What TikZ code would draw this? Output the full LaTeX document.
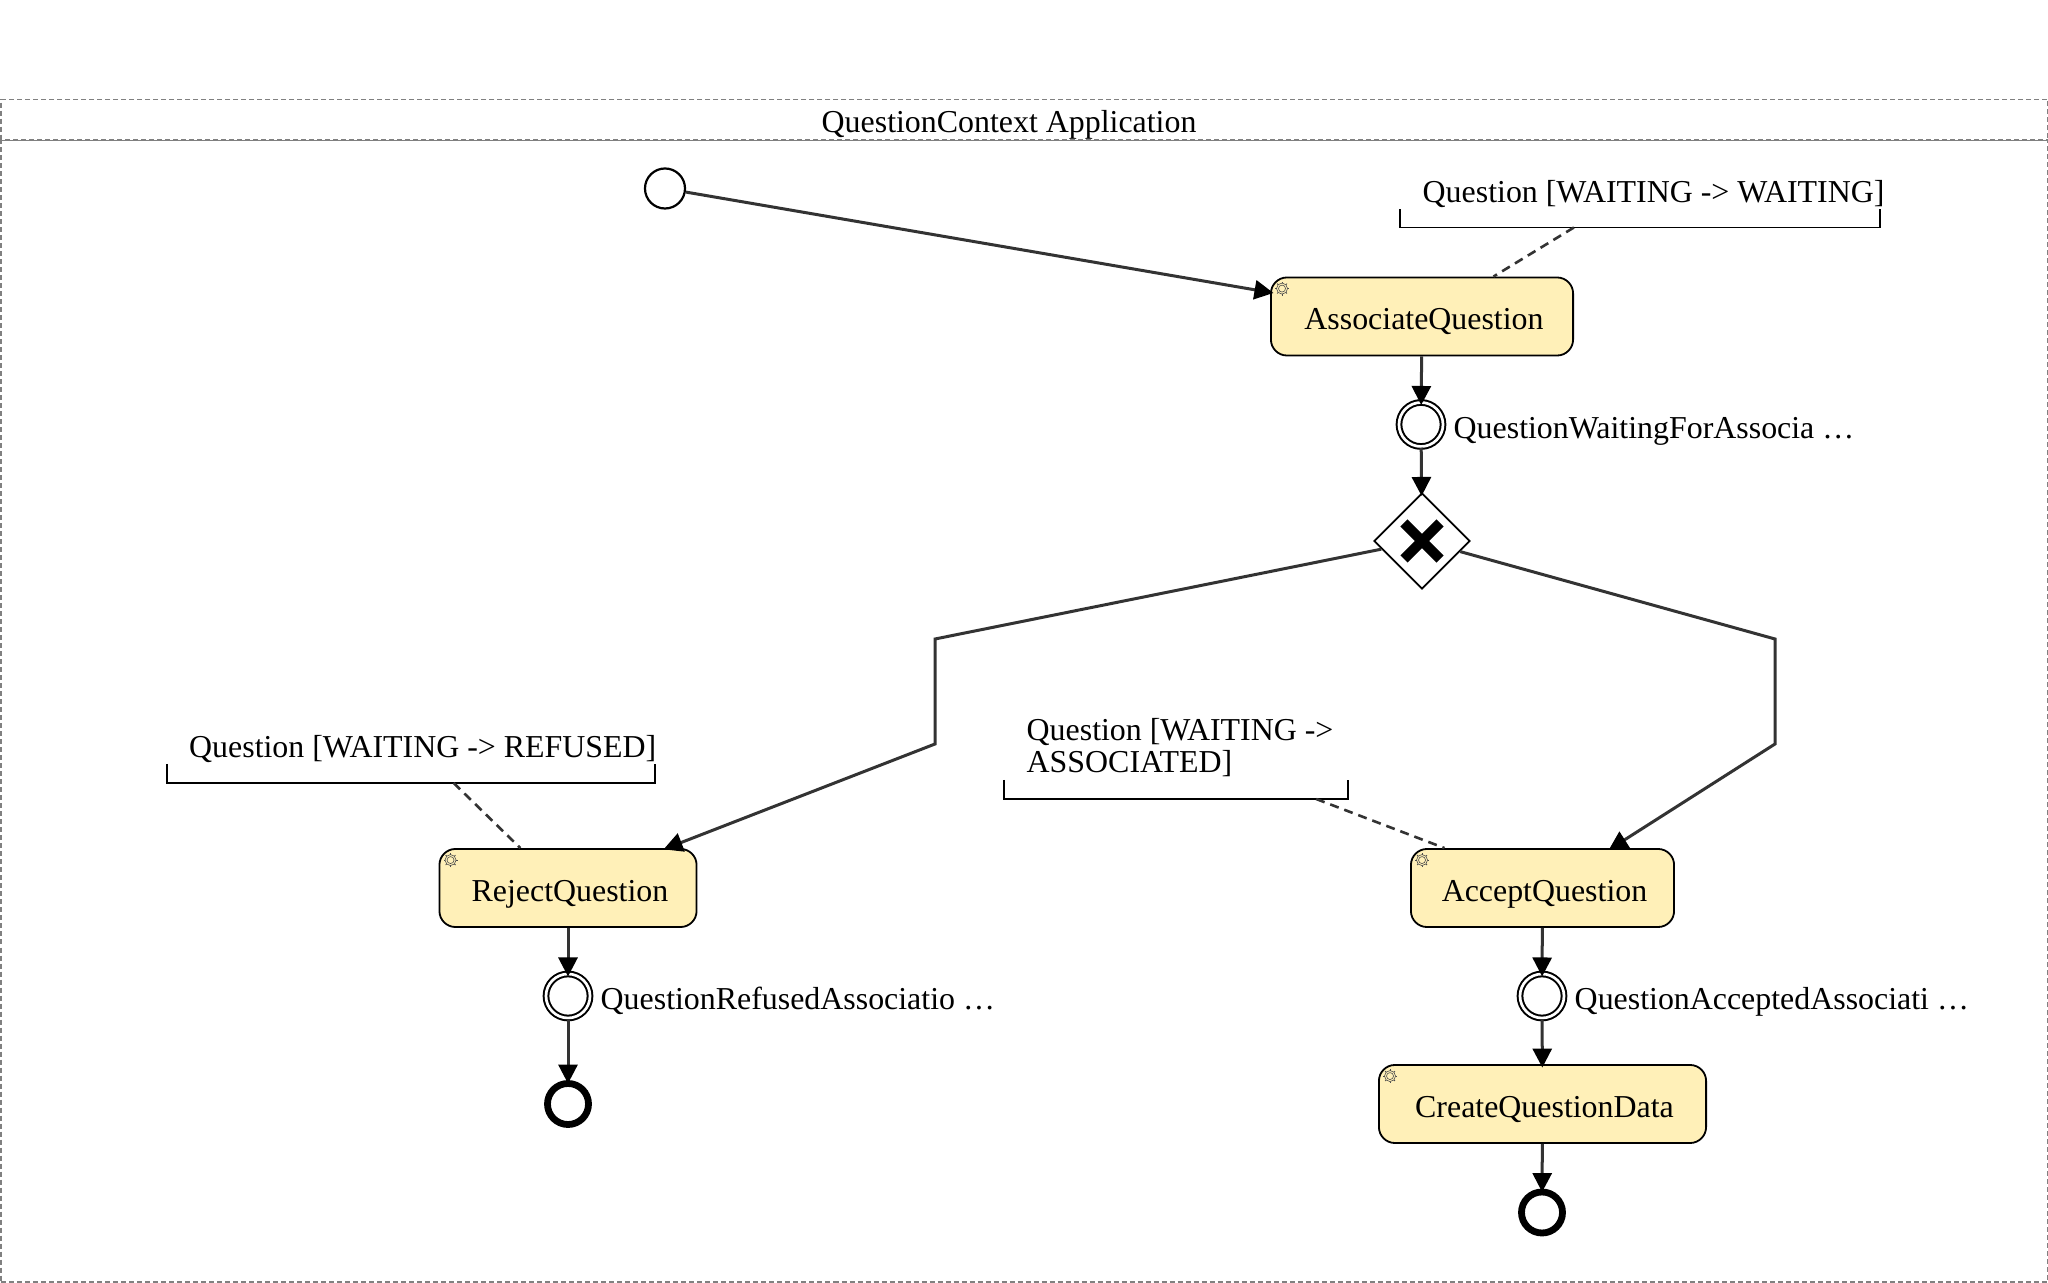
\documentclass[tikz,border=0pt]{standalone}
\usepackage{fontspec}
\setmainfont{Liberation Serif}
\usetikzlibrary{arrows.meta,calc,shapes.geometric,shapes.misc}
\definecolor{taskfill}{HTML}{FFF0B8}
\definecolor{flowgray}{HTML}{333333}
\definecolor{poolgray}{HTML}{808080}
\tikzset{
  lbl/.style={anchor=base west, inner sep=0pt, font=\fontsize{9.07}{8.9}\selectfont, align=left},
  task/.style={draw, rounded corners=.16cm, fill=taskfill, line width=.018cm, inner sep=0pt, minimum height=.78cm, text height=.35cm, text depth=.08cm, execute at begin node={\hspace{.04cm}}, font=\fontsize{9.07}{8.9}\selectfont},
  startev/.style={draw, circle, line width=.022cm, inner sep=0pt, minimum size=.4cm},
  midev/.style={draw, circle, double, double distance=.027cm, line width=.02cm, inner sep=0pt, minimum size=.44cm},
  endev/.style={draw, circle, line width=.068cm, inner sep=0pt, minimum size=.41cm},
  gate/.style={draw, diamond, aspect=1, line width=.018cm, inner sep=0pt, minimum size=.96cm},
  flow/.style={draw=flowgray, line width=.03cm, shorten >=-.035cm, -{Triangle[length=.19cm,width=.19cm,color=black]}},
  assoc/.style={draw=flowgray, line width=.026cm, dash pattern=on .09cm off .06cm},
  brace/.style={draw, line width=.018cm},
  notebox/.style={inner sep=0pt, outer sep=0pt},
  poolbox/.style={draw=poolgray, line width=.018cm, dash pattern=on .05cm off .03cm, inner sep=0pt, outer sep=0pt},
  gear/.pic={
    \draw[black!70, line width=.006cm] (0,0) circle[radius=3.5];
    \draw[black!70, line width=.006cm] (0,0) circle[radius=5.5];
    \foreach \a in {0,45,...,315} \draw[black!70, line width=.008cm] (\a:5.5) -- (\a:7);
  }
}
\begin{document}
\begin{tikzpicture}[x=.01cm,y=-.01cm]
\useasboundingbox (0,0) rectangle (2048,1283);
\node[poolbox, minimum width=20.46cm, minimum height=.41cm, anchor=north west] (poolhead) at (1,99.5){};
\node[poolbox, minimum width=20.46cm, minimum height=11.41cm, anchor=north west] (poolbody) at (1,140){};
\node[lbl] (pooltitle) at (821,132.5){QuestionContext Application};
\node[startev] (start) at (665,188.5){};
\node[task, minimum width=3.02cm] (associate) at (1422,316.5){AssociateQuestion};
\node[midev] (waiting) at (1421,424.5){};
\node[lbl] (waitinglbl) at (1453,439){QuestionWaitingForAssocia …};
\node[gate] (choice) at (1422,541){};
\node[draw, cross out, line width=.1cm, inner sep=0pt, outer sep=0pt, minimum size=.36cm] (choicex) at (1422,541){};
\node[task, minimum width=2.57cm] (reject) at (568,888){RejectQuestion};
\node[midev] (refused) at (568,996){};
\node[lbl] (refusedlbl) at (600,1010){QuestionRefusedAssociatio …};
\node[endev] (endreject) at (568,1104){};
\node[task, minimum width=2.63cm] (accept) at (1542.5,888){AcceptQuestion};
\node[midev] (accepted) at (1542,996){};
\node[lbl] (acceptedlbl) at (1574,1010){QuestionAcceptedAssociati …};
\node[task, minimum width=3.27cm] (create) at (1542.5,1104){CreateQuestionData};
\node[endev] (endcreate) at (1542,1212.5){};
\pic at ($(associate.north west)+(12,12)$) {gear};
\pic at ($(reject.north west)+(12,12)$) {gear};
\pic at ($(accept.north west)+(12,12)$) {gear};
\pic at ($(create.north west)+(12,12)$) {gear};
\node[notebox, minimum width=4.80cm, minimum height=.18cm, anchor=north west] (notewait) at (1400,209.5){};
\node[lbl] (notewaitlbl) at (1422,203){Question [WAITING -> WAITING]};
\node[notebox, minimum width=4.88cm, minimum height=.19cm, anchor=north west] (noterefuse) at (167,764){};
\node[lbl] (noterefuselbl) at (188.5,757.5){Question [WAITING -> REFUSED]};
\node[notebox, minimum width=3.44cm, minimum height=.19cm, anchor=north west] (noteaccept) at (1004,780){};
\node[lbl, anchor=north west] (noteacceptlbl) at (1026,718){Question [WAITING ->\\ASSOCIATED]};
\draw[brace](notewait.north west) -- (notewait.south west) -- (notewait.south east) -- (notewait.north east);
\draw[brace](noterefuse.north west) -- (noterefuse.south west) -- (noterefuse.south east) -- (noterefuse.north east);
\draw[brace](noteaccept.north west) -- (noteaccept.south west) -- (noteaccept.south east) -- (noteaccept.north east);
\draw[assoc]($(notewait.south west)!.362!(notewait.south east)$) -- ($(associate.north west)!.735!(associate.north east)$);
\draw[assoc]($(noterefuse.south west)!.587!(noterefuse.south east)$) -- ($(reject.north west)!.316!(reject.north east)$);
\draw[assoc]($(noteaccept.south west)!.907!(noteaccept.south east)$) -- ($(accept.north west)!.13!(accept.north east)$);
\coordinate (leftbend1) at (935,639);
\coordinate (leftbend2) at (935,744);
\coordinate (rightbend1) at (1775,639);
\coordinate (rightbend2) at (1775,744);
\draw[flow](start) -- (associate.171);
\draw[flow](associate) -- (waiting);
\draw[flow](waiting) -- (choice);
\draw[flow](choice) -- (leftbend1) -- (leftbend2) -- (reject.22);
\draw[flow](choice) -- (rightbend1) -- (rightbend2) -- (accept.30);
\draw[flow](reject) -- (refused);
\draw[flow](refused) -- (endreject);
\draw[flow](accept) -- (accepted);
\draw[flow](accepted) -- (create);
\draw[flow](create) -- (endcreate);
\end{tikzpicture}
\end{document}
